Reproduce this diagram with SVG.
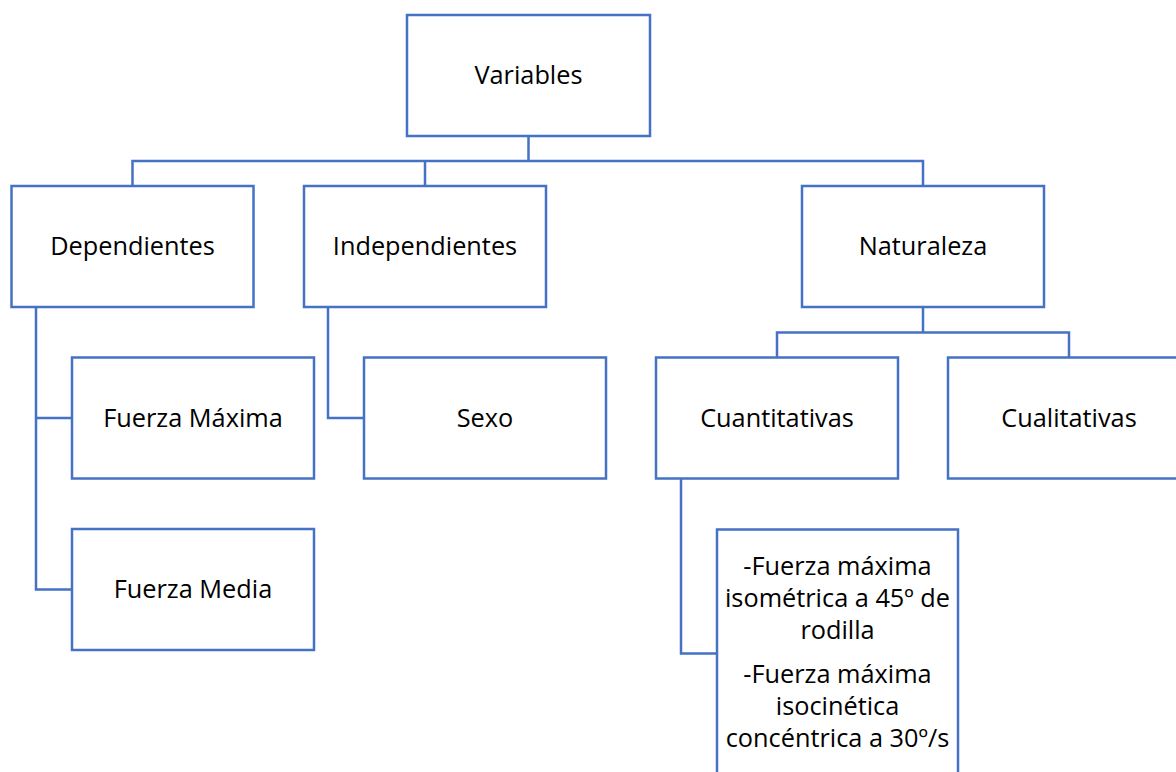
<svg xmlns="http://www.w3.org/2000/svg" width="1176" height="772" viewBox="0 0 1176 772">
<style>
.box{fill:#ffffff;stroke:#4472C4;stroke-width:2.5}
.con{fill:none;stroke:#4472C4;stroke-width:2.5}
text{font-family:"Open Sans","Noto Sans","Liberation Sans",sans-serif;font-size:25.3px;fill:#000000;text-anchor:middle}
</style>
<rect width="1176" height="772" fill="#ffffff"/>
<g id="connectors">
<path class="con" d="M528.5,136 V161 M132.5,186 V161 H923 V186 M425,161 V186"/>
<path class="con" d="M36,307 V589.5 H72 M36,418 H72"/>
<path class="con" d="M328,307 V418 H364"/>
<path class="con" d="M923,307 V332.5 M777,357.5 V332.5 H1069 V357.5"/>
<path class="con" d="M681,478.5 V653.5 H717"/>
</g>
<g id="n-variables"><rect class="box" x="407" y="15" width="243" height="121"/><text x="528.5" y="84">Variables</text></g>
<g id="n-dependientes"><rect class="box" x="11.5" y="186" width="242" height="121"/><text x="132.5" y="255">Dependientes</text></g>
<g id="n-independientes"><rect class="box" x="304" y="186" width="242" height="121"/><text x="425" y="255">Independientes</text></g>
<g id="n-naturaleza"><rect class="box" x="802" y="186" width="242" height="121"/><text x="923" y="255">Naturaleza</text></g>
<g id="n-fuerza-maxima"><rect class="box" x="72" y="357.5" width="242" height="121"/><text x="193" y="426.5">Fuerza Máxima</text></g>
<g id="n-fuerza-media"><rect class="box" x="72" y="529" width="242" height="121"/><text x="193" y="598">Fuerza Media</text></g>
<g id="n-sexo"><rect class="box" x="364" y="357.5" width="242" height="121"/><text x="485" y="426.5">Sexo</text></g>
<g id="n-cuantitativas"><rect class="box" x="656" y="357.5" width="242" height="121"/><text x="777" y="426.5">Cuantitativas</text></g>
<g id="n-cualitativas"><rect class="box" x="948" y="357.5" width="242" height="121"/><text x="1069" y="426.5">Cualitativas</text></g>
<g id="n-detalle"><rect class="box" x="717" y="529.5" width="241" height="270"/>
<text x="837.5" y="575">-Fuerza máxima</text>
<text x="837.5" y="607">isométrica a 45º de</text>
<text x="837.5" y="639">rodilla</text>
<text x="837.5" y="683">-Fuerza máxima</text>
<text x="837.5" y="715">isocinética</text>
<text x="837.5" y="747">concéntrica a 30º/s</text>
</g>
</svg>
